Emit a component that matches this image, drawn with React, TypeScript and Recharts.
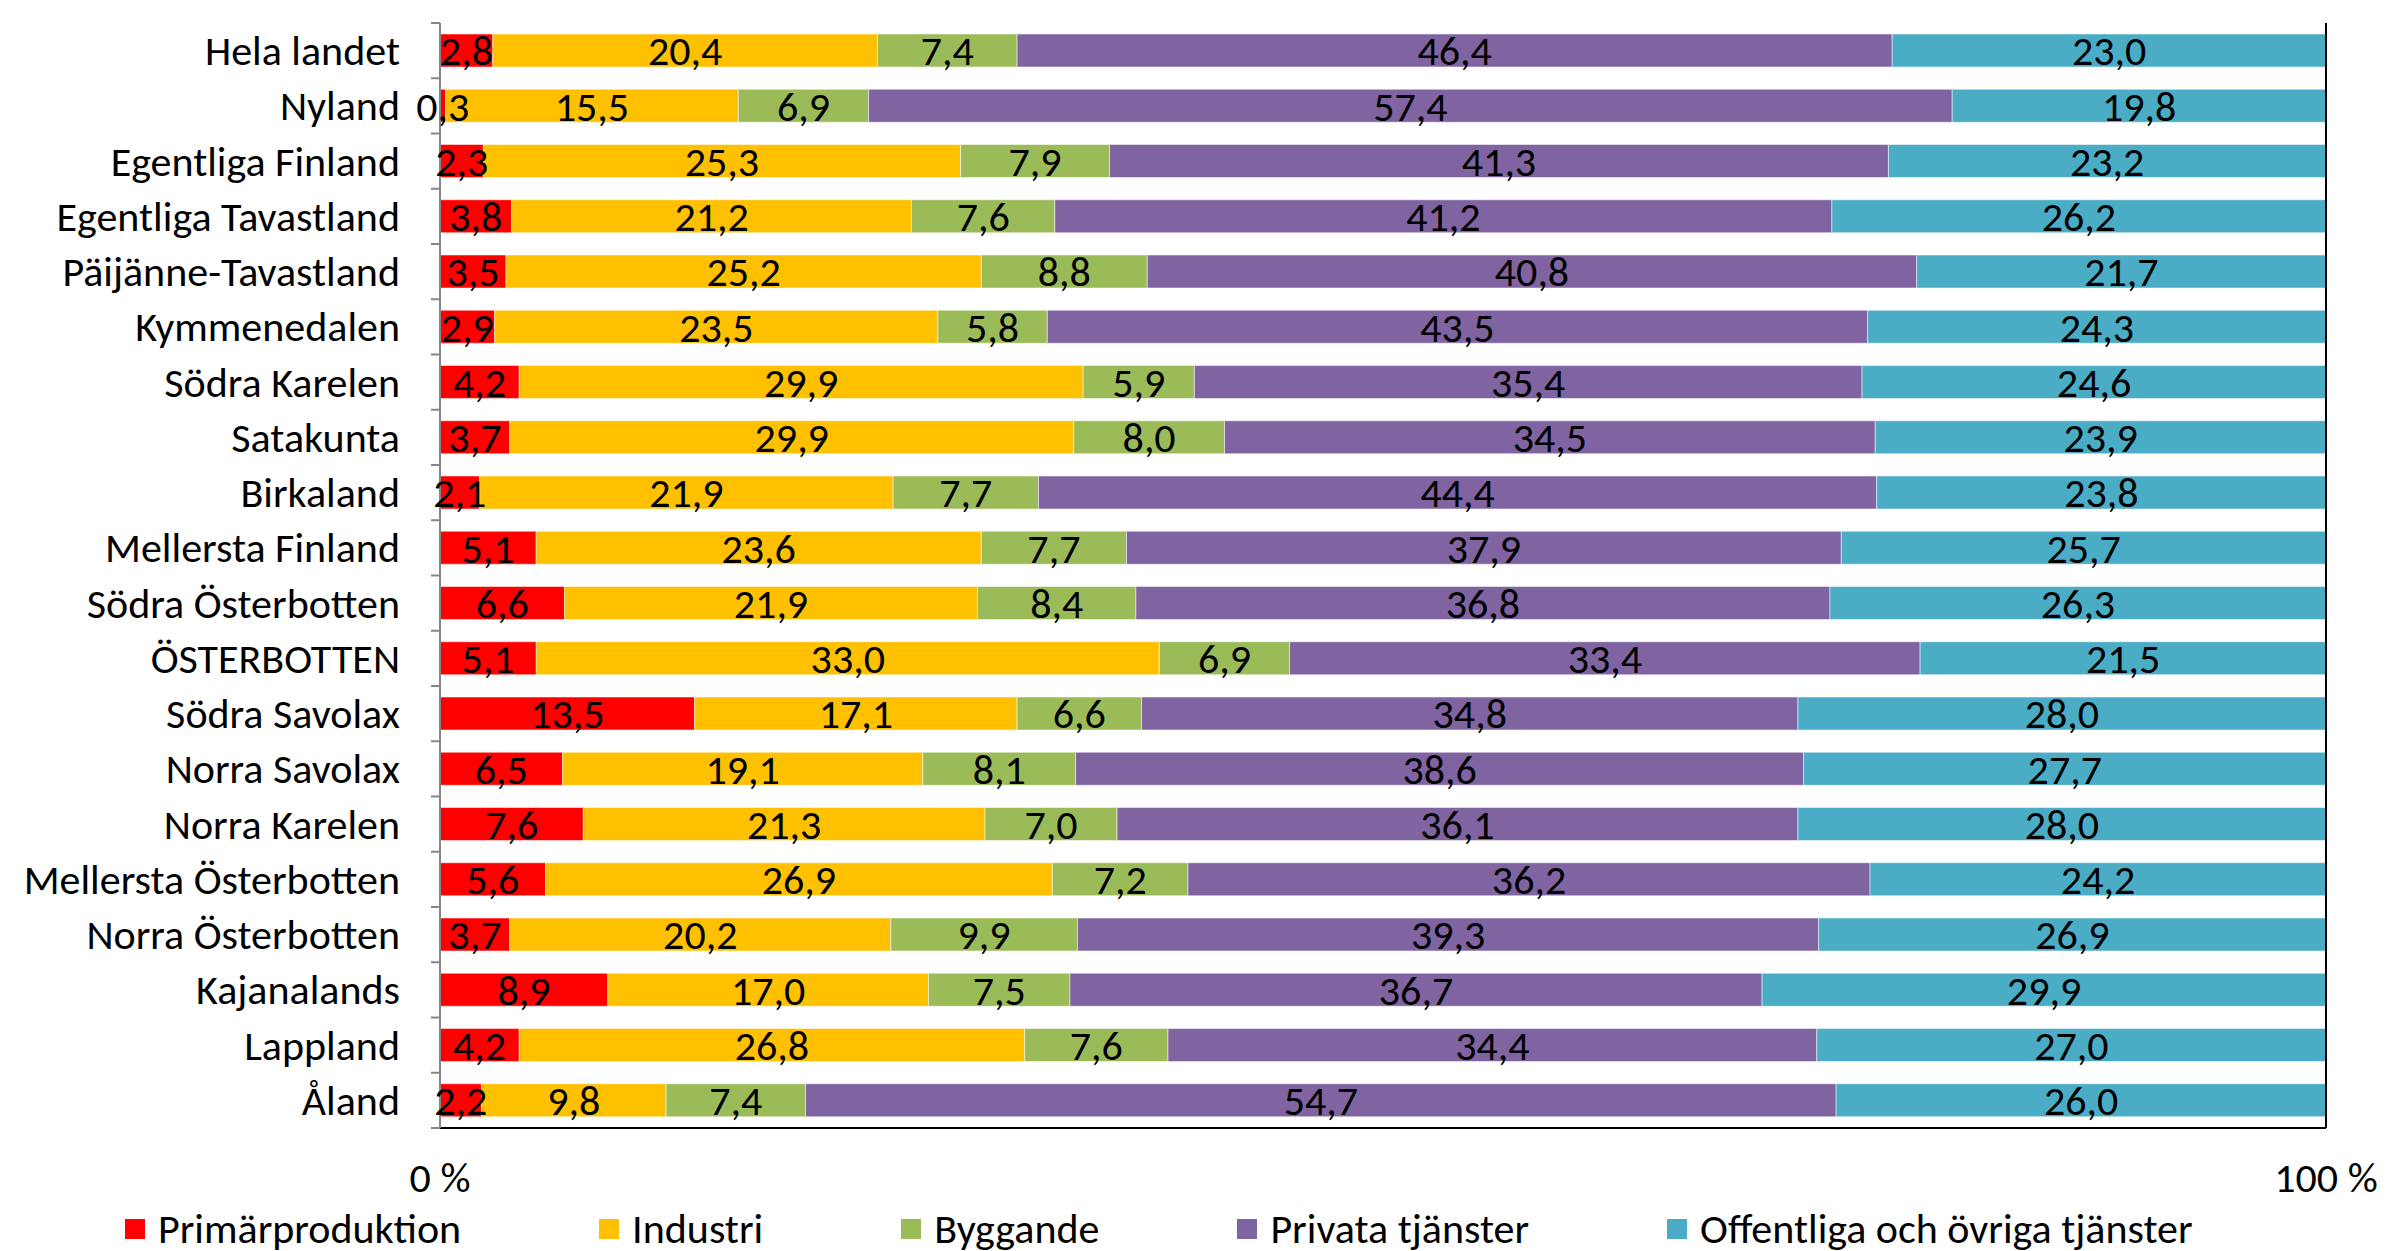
import React from 'react';
import {
    BarChart,
    Bar,
    XAxis,
    YAxis,
    Legend,
    LabelList,
    ReferenceLine,
} from 'recharts';

const regions = [
    'Hela landet',
    'Nyland',
    'Egentliga Finland',
    'Egentliga Tavastland',
    'Päijänne-Tavastland',
    'Kymmenedalen',
    'Södra Karelen',
    'Satakunta',
    'Birkaland',
    'Mellersta Finland',
    'Södra Österbotten',
    'ÖSTERBOTTEN',
    'Södra Savolax',
    'Norra Savolax',
    'Norra Karelen',
    'Mellersta Österbotten',
    'Norra Österbotten',
    'Kajanalands',
    'Lappland',
    'Åland',
];

const primar = [2.8, 0.3, 2.3, 3.8, 3.5, 2.9, 4.2, 3.7, 2.1, 5.1, 6.6, 5.1, 13.5, 6.5, 7.6, 5.6, 3.7, 8.9, 4.2, 2.2];
const industri = [20.4, 15.5, 25.3, 21.2, 25.2, 23.5, 29.9, 29.9, 21.9, 23.6, 21.9, 33.0, 17.1, 19.1, 21.3, 26.9, 20.2, 17.0, 26.8, 9.8];
const byggande = [7.4, 6.9, 7.9, 7.6, 8.8, 5.8, 5.9, 8.0, 7.7, 7.7, 8.4, 6.9, 6.6, 8.1, 7.0, 7.2, 9.9, 7.5, 7.6, 7.4];
const privata = [46.4, 57.4, 41.3, 41.2, 40.8, 43.5, 35.4, 34.5, 44.4, 37.9, 36.8, 33.4, 34.8, 38.6, 36.1, 36.2, 39.3, 36.7, 34.4, 54.7];
const offentliga = [23.0, 19.8, 23.2, 26.2, 21.7, 24.3, 24.6, 23.9, 23.8, 25.7, 26.3, 21.5, 28.0, 27.7, 28.0, 24.2, 26.9, 29.9, 27.0, 26.0];

const seriesNames = [
    'Primärproduktion',
    'Industri',
    'Byggande',
    'Privata tjänster',
    'Offentliga och övriga tjänster',
];
const xTicks = [0, 1];

const chartData = regions.map((name, i) => ({
    name,
    s0: primar[i],
    s1: industri[i],
    s2: byggande[i],
    s3: privata[i],
    s4: offentliga[i],
}));

const colors = ['#ff0000', '#ffc000', '#9bbb59', '#8064a2', '#4bacc6'];
const FONT = "Carlito, Lato, 'Liberation Sans', sans-serif";
const FS = 42;
const BAND = 1105 / 20;

const fmt = (v: any) => Number(v).toFixed(1).replace('.', ',');

function RegionTick(props: any) {
    const { x, y, payload, index } = props;
    const axisX = x + 40;
    return (
        <g>
            <line x1={axisX - 9} x2={axisX} y1={y - BAND / 2} y2={y - BAND / 2} stroke="#868686" strokeWidth={2} />
            {index === regions.length - 1 && (
                <line x1={axisX - 9} x2={axisX} y1={y + BAND / 2} y2={y + BAND / 2} stroke="#868686" strokeWidth={2} />
            )}
            <text x={x} y={y} textAnchor="end" dominantBaseline="central" fill="#000" fontSize={FS} fontFamily={FONT}>
                {payload.value}
            </text>
        </g>
    );
}

function LegendContent() {
    return (
        <div style={{ display: 'flex', alignItems: 'center', fontFamily: FONT, fontSize: FS, color: '#000' }}>
            {seriesNames.map((n, i) => (
                <div key={n} style={{ display: 'flex', alignItems: 'center', marginRight: 138 }}>
                    <span style={{ width: 20, height: 20, background: colors[i], marginRight: 13 }} />
                    <span>{n}</span>
                </div>
            ))}
        </div>
    );
}

export default function App() {
    return (
        <div style={{ position: 'absolute', left: 0, top: 0, width: 2387, height: 1251, background: '#fff' }}>
            <BarChart
                width={2387}
                height={1251}
                data={chartData}
                layout="vertical"
                stackOffset="expand"
                barSize={33}
                margin={{ top: 23, right: 61, left: 0, bottom: 23 }}
            >
                <XAxis
                    xAxisId="bottom"
                    type="number"
                    domain={[0, 1]}
                    ticks={xTicks}
                    interval={0}
                    orientation="bottom"
                    height={100}
                    axisLine={{ stroke: '#000', strokeWidth: 2 }}
                    tickLine={false}
                    tickMargin={28}
                    tickFormatter={(v) => `${Math.round(v * 100)} %`}
                    tick={{ fill: '#000', fontSize: FS, fontFamily: FONT }}
                />
                <XAxis
                    xAxisId="top"
                    type="number"
                    domain={[0, 1]}
                    ticks={xTicks}
                    interval={0}
                    orientation="top"
                    height={0}
                    axisLine={{ stroke: '#868686', strokeWidth: 2 }}
                    tickLine={{ stroke: '#868686', strokeWidth: 2 }}
                    tickSize={12}
                    tick={false}
                />
                <YAxis
                    type="category"
                    dataKey="name"
                    width={440}
                    axisLine={{ stroke: '#868686', strokeWidth: 2 }}
                    tickLine={false}
                    tickSize={0}
                    tickMargin={40}
                    interval={0}
                    tick={<RegionTick />}
                />
                {colors.map((c, i) => (
                    <Bar
                        key={i}
                        xAxisId="bottom"
                        dataKey={`s${i}`}
                        name={seriesNames[i]}
                        stackId="a"
                        fill={c}
                        stroke="#ffffff"
                        strokeOpacity={0.5}
                        strokeWidth={1}
                        isAnimationActive={false}
                    >
                        <LabelList
                            dataKey={`s${i}`}
                            position="center"
                            formatter={fmt}
                            fill="#000"
                            fontSize={FS}
                            fontFamily={FONT}
                        />
                    </Bar>
                ))}
                <ReferenceLine xAxisId="bottom" x={1} stroke="#000" strokeWidth={2} />
                <Legend
                    layout="horizontal"
                    verticalAlign="middle"
                    align="center"
                    content={<LegendContent />}
                    wrapperStyle={{ top: 1203, left: 125, width: 2250, height: 50 }}
                />
            </BarChart>
        </div>
    );
}
